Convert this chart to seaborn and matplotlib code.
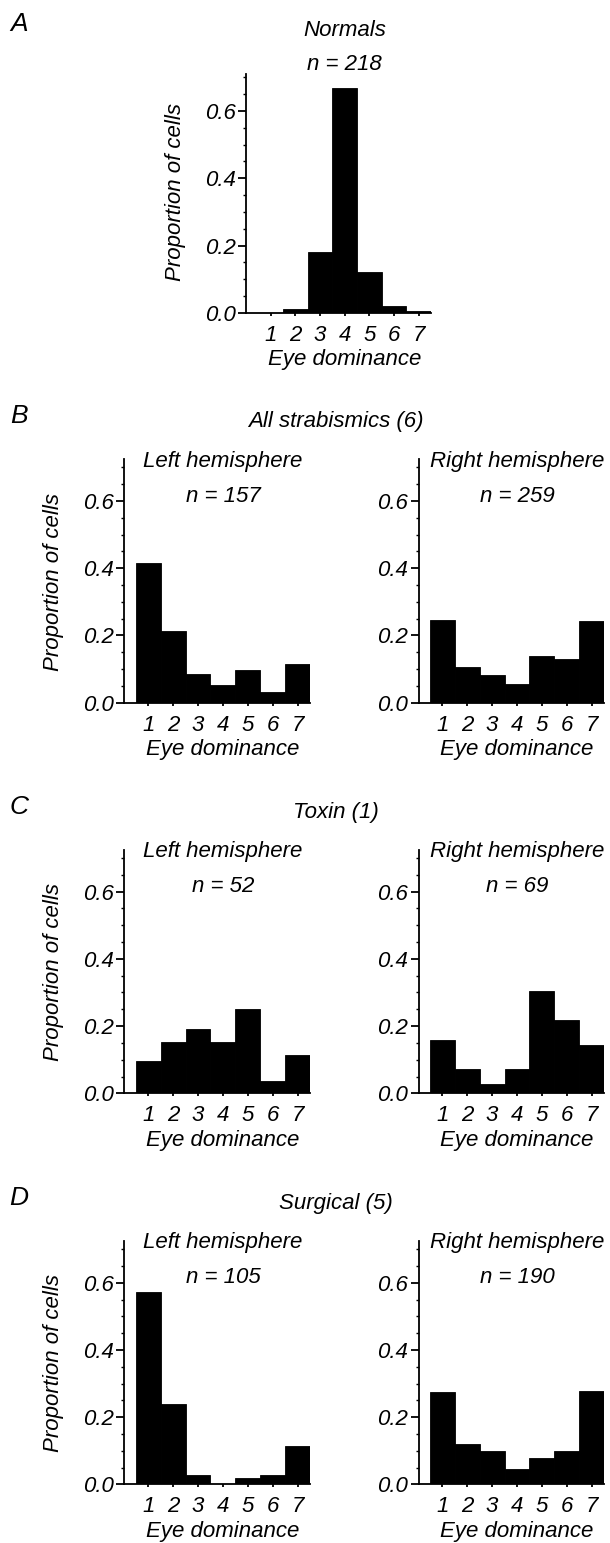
import numpy as np
import pandas as pd
import matplotlib
matplotlib.use("Agg")
import matplotlib.pyplot as plt
from matplotlib.ticker import MultipleLocator
import seaborn as sns

# ---------------- data ----------------
eye_dominance = [1, 2, 3, 4, 5, 6, 7]

normals = [0.0, 0.01, 0.18, 0.67, 0.12, 0.02, 0.005]

strab_left = [0.417, 0.212, 0.085, 0.053, 0.097, 0.033, 0.115]
strab_right = [0.247, 0.107, 0.082, 0.055, 0.140, 0.130, 0.244]

toxin_left = [0.096, 0.154, 0.192, 0.154, 0.250, 0.038, 0.115]
toxin_right = [0.159, 0.072, 0.029, 0.072, 0.304, 0.217, 0.145]

surg_left = [0.571, 0.238, 0.029, 0.0, 0.019, 0.029, 0.114]
surg_right = [0.274, 0.121, 0.100, 0.047, 0.079, 0.100, 0.279]

panel_letters = ["A", "B", "C", "D"]
group_titles = ["Normals", "All strabismics (6)", "Toxin (1)", "Surgical (5)"]
hemi_titles = ["Left hemisphere", "Right hemisphere"]
n_normals = "n = 218"
n_labels = [["n = 157", "n = 259"], ["n = 52", "n = 69"], ["n = 105", "n = 190"]]
y_ticks = [0.0, 0.2, 0.4, 0.6]
y_tick_labels = ["0.0", "0.2", "0.4", "0.6"]
x_tick_labels = ["1", "2", "3", "4", "5", "6", "7"]
x_label = "Eye dominance"
y_label = "Proportion of cells"

# ---------------- style ----------------
sns.set_style("ticks")
plt.rcParams["font.family"] = ["Liberation Sans", "DejaVu Sans"]
plt.rcParams["font.style"] = "italic"
plt.rcParams["axes.linewidth"] = 1.3
for key in ("text.color", "axes.labelcolor", "xtick.color", "ytick.color", "axes.edgecolor"):
    plt.rcParams[key] = "black"

W, H, DPI = 610, 1543, 100
FS = 16
fig = plt.figure(figsize=(W / DPI, H / DPI), dpi=DPI)

PX_PER_UNIT = 336.0


def fx(px):
    return px / W


def fy(py):
    return 1 - py / H


def make_ax(left_px, right_px, bottom_px, ytop):
    height_px = ytop * PX_PER_UNIT
    return fig.add_axes([fx(left_px), fy(bottom_px), (right_px - left_px) / W, height_px / H])


def draw(ax, values, xmin, ytop):
    df = pd.DataFrame({"eye": eye_dominance, "prop": values})
    sns.barplot(data=df, x="eye", y="prop", native_scale=True, width=1.0,
                color="black", edgecolor="black", linewidth=0.6,
                saturation=1, errorbar=None, ax=ax)
    ax.set_xlim(xmin, 7.5)
    ax.set_ylim(0, ytop)
    ax.set_xticks(eye_dominance)
    ax.set_xticklabels(x_tick_labels)
    ax.set_yticks(y_ticks)
    ax.set_yticklabels(y_tick_labels)
    ax.yaxis.set_minor_locator(MultipleLocator(0.05))
    ax.tick_params(axis="y", which="major", length=6, width=1.3, pad=1.5,
                   labelsize=FS, direction="out", colors="black")
    ax.tick_params(axis="y", which="minor", length=2.5, width=1.0, direction="out",
                   colors="black")
    ax.tick_params(axis="x", which="major", length=2.5, width=1.3, pad=6,
                   labelsize=FS, direction="out", colors="black")
    ax.tick_params(axis="x", which="minor", bottom=False)
    for s in ("top", "right"):
        ax.spines[s].set_visible(False)
    for s in ("left", "bottom"):
        ax.spines[s].set_color("black")
    ax.set_ylabel("")
    ax.set_xlabel("")
    for t in ax.get_xticklabels() + ax.get_yticklabels():
        t.set_fontstyle("italic")
    return ax


def add_labels(left_px, right_px, bottom_px, xmin, show_ylabel):
    w = right_px - left_px
    xc = left_px + (4 - xmin) / (7.5 - xmin) * w
    fig.text(fx(xc), fy(bottom_px + 47), x_label, ha="center", va="center",
             fontsize=FS, style="italic")
    if show_ylabel:
        fig.text(fx(left_px - 71), fy(bottom_px - 0.36 * PX_PER_UNIT), y_label,
                 ha="center", va="center", rotation=90, fontsize=FS, style="italic")
    return xc


# ---------------- panel A ----------------
A_left, A_right, A_bottom, A_top, A_xmin = 246, 431, 312.7, 0.71, 0.0
axA = make_ax(A_left, A_right, A_bottom, A_top)
draw(axA, normals, A_xmin, A_top)
xcA = add_labels(A_left, A_right, A_bottom, A_xmin, True)
fig.text(fx(19), fy(24), panel_letters[0], ha="center", va="center", fontsize=19, style="italic")
fig.text(fx(xcA), fy(31), group_titles[0], ha="center", va="center", fontsize=FS, style="italic")
fig.text(fx(xcA), fy(64), n_normals, ha="center", va="center", fontsize=FS, style="italic")

# ---------------- panels B, C, D ----------------
rows = [
    (strab_left, strab_right, 702.7),
    (toxin_left, toxin_right, 1093.3),
    (surg_left, surg_right, 1484.3),
]
L_left, L_right = 124.4, 310.1
R_left, R_right = 418.5, 604.2
xmin, ytop = 0.045, 0.725

for i, (lv, rv, bottom) in enumerate(rows):
    top = bottom - ytop * PX_PER_UNIT
    axL = make_ax(L_left, L_right, bottom, ytop)
    draw(axL, lv, xmin, ytop)
    xcL = add_labels(L_left, L_right, bottom, xmin, True)
    axR = make_ax(R_left, R_right, bottom, ytop)
    draw(axR, rv, xmin, ytop)
    xcR = add_labels(R_left, R_right, bottom, xmin, False)

    fig.text(fx(19), fy(top - 43), panel_letters[i + 1], ha="center", va="center",
             fontsize=19, style="italic")
    fig.text(fx(336), fy(top - 37.5), group_titles[i + 1], ha="center", va="center",
             fontsize=FS, style="italic")
    fig.text(fx(xcL), fy(top + 2), hemi_titles[0], ha="center", va="center",
             fontsize=FS, style="italic")
    fig.text(fx(xcR), fy(top + 2), hemi_titles[1], ha="center", va="center",
             fontsize=FS, style="italic")
    fig.text(fx(xcL), fy(top + 37), n_labels[i][0], ha="center", va="center",
             fontsize=FS, style="italic")
    fig.text(fx(xcR), fy(top + 37), n_labels[i][1], ha="center", va="center",
             fontsize=FS, style="italic")

fig.savefig("out.png", dpi=DPI)
